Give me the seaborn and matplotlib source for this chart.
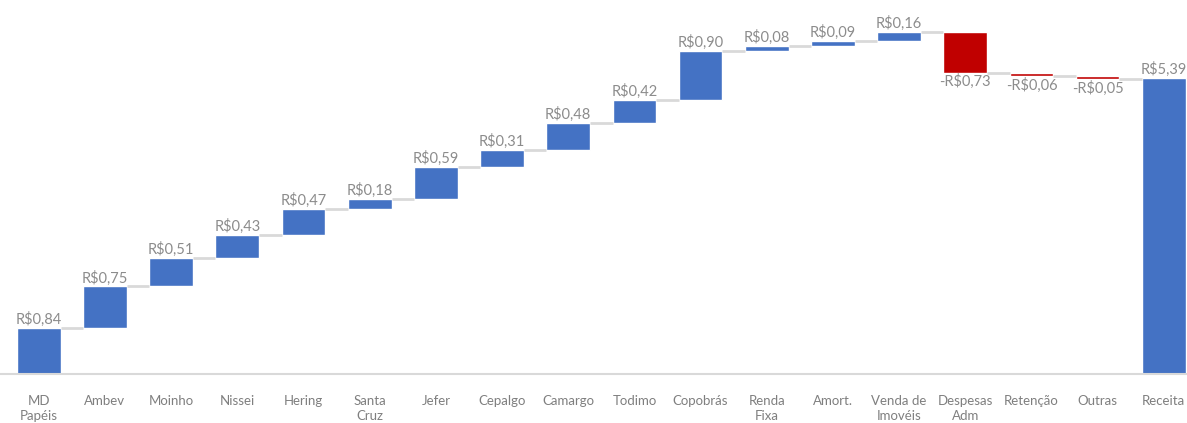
import numpy as np
import seaborn as sns
import matplotlib.pyplot as plt

categories = ["MD\nPapéis", "Ambev", "Moinho", "Nissei", "Hering", "Santa\nCruz",
              "Jefer", "Cepalgo", "Camargo", "Todimo", "Copobrás", "Renda\nFixa",
              "Amort.", "Venda de\nImovéis", "Despesas\nAdm", "Retenção", "Outras",
              "Receita"]
deltas = [0.84, 0.75, 0.51, 0.43, 0.47, 0.18, 0.59, 0.31, 0.48, 0.42, 0.90,
          0.08, 0.09, 0.16, -0.73, -0.06, -0.05]
total = 5.39

blue = "#4472C4"
red = "#C00000"
gray_txt = "#8c8c8c"
gray_line = "#d9d9d9"

sns.set_style("white")
plt.rcParams["font.family"] = ["Lato", "DejaVu Sans"]

# waterfall geometry
ends = np.cumsum(deltas)
starts = np.concatenate([[0], ends[:-1]])
heights = list(deltas) + [total]
bottoms = list(starts) + [0]
colors = [blue if d >= 0 else red for d in deltas] + [blue]

fig = plt.figure(figsize=(11.87, 4.23), dpi=100)
ax = fig.add_axes([0.0, 0.116, 1.0, 0.884])

w = 0.66
sns.barplot(x=categories, y=heights, hue=categories, palette=colors,
            legend=False, width=w, saturation=1, ax=ax)
for p, b in zip(ax.patches, bottoms):
    p.set_y(b)

# connectors
levels = list(ends)
for i in range(len(categories) - 1):
    ax.plot([i + w / 2, i + 1 - w / 2], [levels[i], levels[i]],
            color=gray_line, lw=2, zorder=1, solid_capstyle="butt")

# labels
for i, (h, b) in enumerate(zip(heights, bottoms)):
    txt = ("-" if h < 0 else "") + "R$" + f"{abs(h):.2f}".replace(".", ",")
    if h >= 0:
        ax.text(i, b + h + 0.02, txt, ha="center", va="bottom",
                color=gray_txt, fontsize=10.5)
    else:
        ax.text(i, b + h - 0.03, txt, ha="center", va="top",
                color=gray_txt, fontsize=10.5)

ax.set_xlim(-0.586, 17.35)
ax.set_ylim(0, 6.8)
ax.set_yticks([])
ax.set_ylabel("")
for s in ["top", "right", "left"]:
    ax.spines[s].set_visible(False)
ax.spines["bottom"].set_color(gray_line)
ax.spines["bottom"].set_linewidth(1.5)
ax.tick_params(axis="x", length=0, pad=15, labelsize=9.5, labelcolor="#7f7f7f")
for t in ax.get_xticklabels():
    t.set_linespacing(1.35)

fig.savefig("out.png", dpi=100)
